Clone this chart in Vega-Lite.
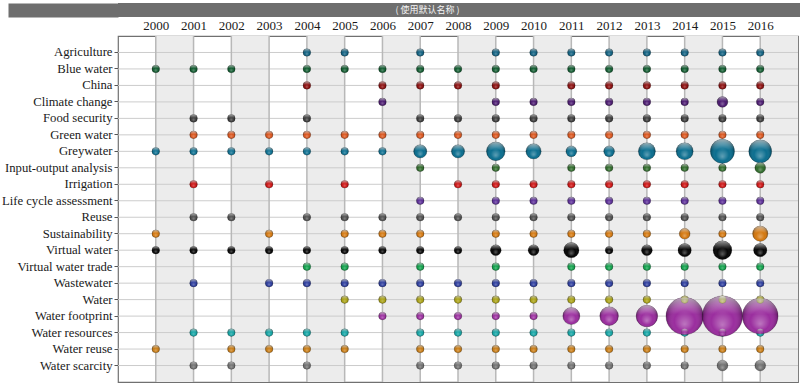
{
  "$schema": "https://vega.github.io/schema/vega-lite/v6.json",
  "padding": {"top": 3, "left": 0, "right": 0, "bottom": 0},
  "background": "#ffffff",
  "spacing": 1,
  "datasets": {
    "keywords": [
      {"k": "Agriculture"}, {"k": "Blue water"}, {"k": "China"}, {"k": "Climate change"}, {"k": "Food security"},
      {"k": "Green water"}, {"k": "Greywater"}, {"k": "Input-output analysis"}, {"k": "Irrigation"}, {"k": "Life cycle assessment"},
      {"k": "Reuse"}, {"k": "Sustainability"}, {"k": "Virtual water"}, {"k": "Virtual water trade"}, {"k": "Wastewater"},
      {"k": "Water"}, {"k": "Water footprint"}, {"k": "Water resources"}, {"k": "Water reuse"}, {"k": "Water scarcity"}
    ],
    "years": [
      {"year": 2000}, {"year": 2001}, {"year": 2002}, {"year": 2003}, {"year": 2004}, {"year": 2005}, {"year": 2006},
      {"year": 2007}, {"year": 2008}, {"year": 2009}, {"year": 2010}, {"year": 2011}, {"year": 2012}, {"year": 2013},
      {"year": 2014}, {"year": 2015}, {"year": 2016}
    ],
    "bands": [
      {"year": 2000, "end": 2001}, {"year": 2002, "end": 2003}, {"year": 2004, "end": 2005}, {"year": 2006, "end": 2007},
      {"year": 2008, "end": 2009}, {"year": 2010, "end": 2011}, {"year": 2012, "end": 2013}, {"year": 2014, "end": 2015},
      {"year": 2016, "end": 2017}
    ],
    "bubbles": [
      {"k": "Water scarcity", "year": 2001, "n": 1}, {"k": "Water scarcity", "year": 2002, "n": 1}, {"k": "Water scarcity", "year": 2004, "n": 1},
      {"k": "Water scarcity", "year": 2007, "n": 1}, {"k": "Water scarcity", "year": 2008, "n": 1}, {"k": "Water scarcity", "year": 2009, "n": 1},
      {"k": "Water scarcity", "year": 2010, "n": 1}, {"k": "Water scarcity", "year": 2011, "n": 1}, {"k": "Water scarcity", "year": 2012, "n": 1},
      {"k": "Water scarcity", "year": 2013, "n": 1}, {"k": "Water scarcity", "year": 2014, "n": 1}, {"k": "Water scarcity", "year": 2015, "n": 2},
      {"k": "Water scarcity", "year": 2016, "n": 2},

      {"k": "Water reuse", "year": 2000, "n": 1}, {"k": "Water reuse", "year": 2002, "n": 1}, {"k": "Water reuse", "year": 2003, "n": 1},
      {"k": "Water reuse", "year": 2004, "n": 1}, {"k": "Water reuse", "year": 2005, "n": 1}, {"k": "Water reuse", "year": 2007, "n": 1},
      {"k": "Water reuse", "year": 2008, "n": 1}, {"k": "Water reuse", "year": 2009, "n": 1}, {"k": "Water reuse", "year": 2010, "n": 1},
      {"k": "Water reuse", "year": 2011, "n": 1}, {"k": "Water reuse", "year": 2012, "n": 1}, {"k": "Water reuse", "year": 2013, "n": 1},
      {"k": "Water reuse", "year": 2014, "n": 1}, {"k": "Water reuse", "year": 2015, "n": 1}, {"k": "Water reuse", "year": 2016, "n": 1},

      {"k": "Water resources", "year": 2001, "n": 1}, {"k": "Water resources", "year": 2002, "n": 1}, {"k": "Water resources", "year": 2003, "n": 1},
      {"k": "Water resources", "year": 2004, "n": 1}, {"k": "Water resources", "year": 2005, "n": 1}, {"k": "Water resources", "year": 2007, "n": 1},
      {"k": "Water resources", "year": 2008, "n": 1}, {"k": "Water resources", "year": 2009, "n": 1}, {"k": "Water resources", "year": 2010, "n": 1},
      {"k": "Water resources", "year": 2011, "n": 1}, {"k": "Water resources", "year": 2012, "n": 1}, {"k": "Water resources", "year": 2013, "n": 1},
      {"k": "Water resources", "year": 2014, "n": 1}, {"k": "Water resources", "year": 2015, "n": 1}, {"k": "Water resources", "year": 2016, "n": 1},

      {"k": "Water footprint", "year": 2006, "n": 1}, {"k": "Water footprint", "year": 2007, "n": 1}, {"k": "Water footprint", "year": 2008, "n": 1},
      {"k": "Water footprint", "year": 2009, "n": 1}, {"k": "Water footprint", "year": 2010, "n": 1}, {"k": "Water footprint", "year": 2011, "n": 5},
      {"k": "Water footprint", "year": 2012, "n": 6}, {"k": "Water footprint", "year": 2013, "n": 8}, {"k": "Water footprint", "year": 2014, "n": 24},
      {"k": "Water footprint", "year": 2015, "n": 28}, {"k": "Water footprint", "year": 2016, "n": 22},

      {"k": "Water", "year": 2005, "n": 1}, {"k": "Water", "year": 2006, "n": 1}, {"k": "Water", "year": 2007, "n": 1},
      {"k": "Water", "year": 2008, "n": 1}, {"k": "Water", "year": 2009, "n": 1}, {"k": "Water", "year": 2010, "n": 1},
      {"k": "Water", "year": 2011, "n": 1}, {"k": "Water", "year": 2012, "n": 1}, {"k": "Water", "year": 2013, "n": 1},
      {"k": "Water", "year": 2014, "n": 1}, {"k": "Water", "year": 2015, "n": 1}, {"k": "Water", "year": 2016, "n": 1},

      {"k": "Wastewater", "year": 2001, "n": 1}, {"k": "Wastewater", "year": 2003, "n": 1}, {"k": "Wastewater", "year": 2004, "n": 1},
      {"k": "Wastewater", "year": 2005, "n": 1}, {"k": "Wastewater", "year": 2006, "n": 1}, {"k": "Wastewater", "year": 2007, "n": 1},
      {"k": "Wastewater", "year": 2008, "n": 1}, {"k": "Wastewater", "year": 2009, "n": 1}, {"k": "Wastewater", "year": 2010, "n": 1},
      {"k": "Wastewater", "year": 2011, "n": 1}, {"k": "Wastewater", "year": 2012, "n": 1}, {"k": "Wastewater", "year": 2013, "n": 1},
      {"k": "Wastewater", "year": 2014, "n": 1}, {"k": "Wastewater", "year": 2015, "n": 1}, {"k": "Wastewater", "year": 2016, "n": 1},

      {"k": "Virtual water trade", "year": 2004, "n": 1}, {"k": "Virtual water trade", "year": 2005, "n": 1}, {"k": "Virtual water trade", "year": 2007, "n": 1},
      {"k": "Virtual water trade", "year": 2009, "n": 1}, {"k": "Virtual water trade", "year": 2011, "n": 1}, {"k": "Virtual water trade", "year": 2012, "n": 1},
      {"k": "Virtual water trade", "year": 2013, "n": 1}, {"k": "Virtual water trade", "year": 2014, "n": 1}, {"k": "Virtual water trade", "year": 2015, "n": 1},
      {"k": "Virtual water trade", "year": 2016, "n": 1},

      {"k": "Virtual water", "year": 2000, "n": 1}, {"k": "Virtual water", "year": 2001, "n": 1}, {"k": "Virtual water", "year": 2002, "n": 1},
      {"k": "Virtual water", "year": 2003, "n": 1}, {"k": "Virtual water", "year": 2004, "n": 1}, {"k": "Virtual water", "year": 2005, "n": 1},
      {"k": "Virtual water", "year": 2006, "n": 1}, {"k": "Virtual water", "year": 2007, "n": 1}, {"k": "Virtual water", "year": 2008, "n": 1},
      {"k": "Virtual water", "year": 2009, "n": 2}, {"k": "Virtual water", "year": 2010, "n": 2}, {"k": "Virtual water", "year": 2011, "n": 4},
      {"k": "Virtual water", "year": 2012, "n": 1}, {"k": "Virtual water", "year": 2013, "n": 2}, {"k": "Virtual water", "year": 2014, "n": 3},
      {"k": "Virtual water", "year": 2015, "n": 6}, {"k": "Virtual water", "year": 2016, "n": 3},

      {"k": "Sustainability", "year": 2000, "n": 1}, {"k": "Sustainability", "year": 2003, "n": 1}, {"k": "Sustainability", "year": 2005, "n": 1},
      {"k": "Sustainability", "year": 2006, "n": 1}, {"k": "Sustainability", "year": 2007, "n": 1}, {"k": "Sustainability", "year": 2009, "n": 1},
      {"k": "Sustainability", "year": 2010, "n": 1}, {"k": "Sustainability", "year": 2011, "n": 1}, {"k": "Sustainability", "year": 2012, "n": 1},
      {"k": "Sustainability", "year": 2013, "n": 1}, {"k": "Sustainability", "year": 2014, "n": 2}, {"k": "Sustainability", "year": 2015, "n": 1},
      {"k": "Sustainability", "year": 2016, "n": 4},

      {"k": "Reuse", "year": 2001, "n": 1}, {"k": "Reuse", "year": 2002, "n": 1}, {"k": "Reuse", "year": 2004, "n": 1},
      {"k": "Reuse", "year": 2005, "n": 1}, {"k": "Reuse", "year": 2006, "n": 1}, {"k": "Reuse", "year": 2007, "n": 1},
      {"k": "Reuse", "year": 2008, "n": 1}, {"k": "Reuse", "year": 2009, "n": 1}, {"k": "Reuse", "year": 2010, "n": 1},
      {"k": "Reuse", "year": 2011, "n": 1}, {"k": "Reuse", "year": 2012, "n": 1}, {"k": "Reuse", "year": 2013, "n": 1},
      {"k": "Reuse", "year": 2014, "n": 1}, {"k": "Reuse", "year": 2015, "n": 1}, {"k": "Reuse", "year": 2016, "n": 1},

      {"k": "Life cycle assessment", "year": 2007, "n": 1}, {"k": "Life cycle assessment", "year": 2009, "n": 1}, {"k": "Life cycle assessment", "year": 2010, "n": 1},
      {"k": "Life cycle assessment", "year": 2011, "n": 1}, {"k": "Life cycle assessment", "year": 2012, "n": 1}, {"k": "Life cycle assessment", "year": 2013, "n": 1},
      {"k": "Life cycle assessment", "year": 2014, "n": 1}, {"k": "Life cycle assessment", "year": 2015, "n": 1}, {"k": "Life cycle assessment", "year": 2016, "n": 1},

      {"k": "Irrigation", "year": 2001, "n": 1}, {"k": "Irrigation", "year": 2003, "n": 1}, {"k": "Irrigation", "year": 2005, "n": 1},
      {"k": "Irrigation", "year": 2008, "n": 1}, {"k": "Irrigation", "year": 2009, "n": 1}, {"k": "Irrigation", "year": 2010, "n": 1},
      {"k": "Irrigation", "year": 2011, "n": 1}, {"k": "Irrigation", "year": 2012, "n": 1}, {"k": "Irrigation", "year": 2013, "n": 1},
      {"k": "Irrigation", "year": 2014, "n": 1}, {"k": "Irrigation", "year": 2015, "n": 1}, {"k": "Irrigation", "year": 2016, "n": 1},

      {"k": "Input-output analysis", "year": 2007, "n": 1}, {"k": "Input-output analysis", "year": 2009, "n": 1}, {"k": "Input-output analysis", "year": 2011, "n": 1},
      {"k": "Input-output analysis", "year": 2012, "n": 1}, {"k": "Input-output analysis", "year": 2013, "n": 1}, {"k": "Input-output analysis", "year": 2014, "n": 1},
      {"k": "Input-output analysis", "year": 2015, "n": 1}, {"k": "Input-output analysis", "year": 2016, "n": 2},

      {"k": "Greywater", "year": 2000, "n": 1}, {"k": "Greywater", "year": 2001, "n": 1}, {"k": "Greywater", "year": 2002, "n": 1},
      {"k": "Greywater", "year": 2003, "n": 1}, {"k": "Greywater", "year": 2004, "n": 1}, {"k": "Greywater", "year": 2005, "n": 1},
      {"k": "Greywater", "year": 2006, "n": 1}, {"k": "Greywater", "year": 2007, "n": 3}, {"k": "Greywater", "year": 2008, "n": 3},
      {"k": "Greywater", "year": 2009, "n": 6}, {"k": "Greywater", "year": 2010, "n": 4}, {"k": "Greywater", "year": 2011, "n": 2},
      {"k": "Greywater", "year": 2012, "n": 2}, {"k": "Greywater", "year": 2013, "n": 5}, {"k": "Greywater", "year": 2014, "n": 5},
      {"k": "Greywater", "year": 2015, "n": 10}, {"k": "Greywater", "year": 2016, "n": 9},

      {"k": "Green water", "year": 2001, "n": 1}, {"k": "Green water", "year": 2002, "n": 1}, {"k": "Green water", "year": 2003, "n": 1},
      {"k": "Green water", "year": 2004, "n": 1}, {"k": "Green water", "year": 2005, "n": 1}, {"k": "Green water", "year": 2006, "n": 1},
      {"k": "Green water", "year": 2007, "n": 1}, {"k": "Green water", "year": 2008, "n": 1}, {"k": "Green water", "year": 2009, "n": 1},
      {"k": "Green water", "year": 2010, "n": 1}, {"k": "Green water", "year": 2011, "n": 1}, {"k": "Green water", "year": 2012, "n": 1},
      {"k": "Green water", "year": 2013, "n": 1}, {"k": "Green water", "year": 2014, "n": 1}, {"k": "Green water", "year": 2015, "n": 1},
      {"k": "Green water", "year": 2016, "n": 1},

      {"k": "Food security", "year": 2001, "n": 1}, {"k": "Food security", "year": 2002, "n": 1}, {"k": "Food security", "year": 2004, "n": 1},
      {"k": "Food security", "year": 2007, "n": 1}, {"k": "Food security", "year": 2008, "n": 1}, {"k": "Food security", "year": 2009, "n": 1},
      {"k": "Food security", "year": 2010, "n": 1}, {"k": "Food security", "year": 2011, "n": 1}, {"k": "Food security", "year": 2012, "n": 1},
      {"k": "Food security", "year": 2013, "n": 1}, {"k": "Food security", "year": 2014, "n": 1}, {"k": "Food security", "year": 2015, "n": 1},
      {"k": "Food security", "year": 2016, "n": 1},

      {"k": "Climate change", "year": 2006, "n": 1}, {"k": "Climate change", "year": 2009, "n": 1}, {"k": "Climate change", "year": 2010, "n": 1},
      {"k": "Climate change", "year": 2011, "n": 1}, {"k": "Climate change", "year": 2012, "n": 1}, {"k": "Climate change", "year": 2013, "n": 1},
      {"k": "Climate change", "year": 2014, "n": 1}, {"k": "Climate change", "year": 2015, "n": 2}, {"k": "Climate change", "year": 2016, "n": 1},

      {"k": "China", "year": 2004, "n": 1}, {"k": "China", "year": 2006, "n": 1}, {"k": "China", "year": 2007, "n": 1},
      {"k": "China", "year": 2008, "n": 1}, {"k": "China", "year": 2009, "n": 1}, {"k": "China", "year": 2011, "n": 1},
      {"k": "China", "year": 2012, "n": 1}, {"k": "China", "year": 2013, "n": 1}, {"k": "China", "year": 2014, "n": 1},
      {"k": "China", "year": 2015, "n": 1}, {"k": "China", "year": 2016, "n": 1},

      {"k": "Blue water", "year": 2000, "n": 1}, {"k": "Blue water", "year": 2001, "n": 1}, {"k": "Blue water", "year": 2002, "n": 1},
      {"k": "Blue water", "year": 2004, "n": 1}, {"k": "Blue water", "year": 2005, "n": 1}, {"k": "Blue water", "year": 2006, "n": 1},
      {"k": "Blue water", "year": 2007, "n": 1}, {"k": "Blue water", "year": 2008, "n": 1}, {"k": "Blue water", "year": 2009, "n": 1},
      {"k": "Blue water", "year": 2010, "n": 1}, {"k": "Blue water", "year": 2011, "n": 1}, {"k": "Blue water", "year": 2012, "n": 1},
      {"k": "Blue water", "year": 2013, "n": 1}, {"k": "Blue water", "year": 2014, "n": 1}, {"k": "Blue water", "year": 2015, "n": 1},
      {"k": "Blue water", "year": 2016, "n": 1},

      {"k": "Agriculture", "year": 2004, "n": 1}, {"k": "Agriculture", "year": 2005, "n": 1}, {"k": "Agriculture", "year": 2007, "n": 1},
      {"k": "Agriculture", "year": 2009, "n": 1}, {"k": "Agriculture", "year": 2010, "n": 1}, {"k": "Agriculture", "year": 2011, "n": 1},
      {"k": "Agriculture", "year": 2012, "n": 1}, {"k": "Agriculture", "year": 2013, "n": 1}, {"k": "Agriculture", "year": 2014, "n": 1},
      {"k": "Agriculture", "year": 2015, "n": 1}, {"k": "Agriculture", "year": 2016, "n": 1}
    ]
  },
  "vconcat": [
    {
      "width": 683,
      "height": 14,
      "view": {"stroke": null},
      "data": {"values": [{"label": "( 使用默认名称 )"}]},
      "encoding": {
        "y": {"field": "label", "type": "nominal", "title": null,
              "axis": {"orient": "left", "labels": false, "ticks": true, "tickSize": 110, "tickWidth": 14, "tickColor": "#6e6e6e", "tickCap": "butt", "domain": false, "grid": false}}
      },
      "layer": [
        {"mark": {"type": "rect", "color": "#6e6e6e"}, "encoding": {}},
        {"mark": {"type": "text", "color": "#f4f4f4", "font": "Noto Sans CJK SC", "fontSize": 9, "dx": -32, "baseline": "middle"}, "encoding": {"text": {"field": "label"}}}
      ]
    },
    {
      "width": 680,
      "height": 346,
      "view": {"stroke": "#707070", "strokeWidth": 1.2},
      "layer": [
        {
          "data": {"name": "bands"},
          "mark": {"type": "rect", "color": "#ececec"},
          "encoding": {
            "x": {"field": "year", "type": "quantitative", "title": null,
                  "scale": {"domain": [1999, 2017], "nice": false, "zero": false},
                  "axis": {"orient": "top", "values": [2000, 2001, 2002, 2003, 2004, 2005, 2006, 2007, 2008, 2009, 2010, 2011, 2012, 2013, 2014, 2015, 2016],
                           "format": "d", "grid": false, "ticks": false, "tickSize": 0, "domain": false, "labelPadding": 4,
                           "labelFont": "Liberation Serif", "labelFontSize": 13, "labelColor": "#1a1a1a"}},
            "x2": {"field": "end"}
          }
        },
        {
          "data": {"name": "keywords"},
          "mark": {"type": "rule", "color": "#cccccc", "strokeWidth": 1},
          "encoding": {
            "x": {"datum": 1999, "type": "quantitative", "title": null,
                  "scale": {"domain": [1999, 2017], "nice": false, "zero": false},
                  "axis": {"orient": "top", "values": [2000, 2001, 2002, 2003, 2004, 2005, 2006, 2007, 2008, 2009, 2010, 2011, 2012, 2013, 2014, 2015, 2016],
                           "format": "d", "grid": false, "ticks": false, "tickSize": 0, "domain": false, "labelPadding": 4,
                           "labelFont": "Liberation Serif", "labelFontSize": 13, "labelColor": "#1a1a1a"}},
            "x2": {"datum": 2017},
            "y": {"field": "k", "type": "nominal", "title": null,
                  "scale": {"domain": ["Agriculture", "Blue water", "China", "Climate change", "Food security", "Green water", "Greywater", "Input-output analysis", "Irrigation", "Life cycle assessment", "Reuse", "Sustainability", "Virtual water", "Virtual water trade", "Wastewater", "Water", "Water footprint", "Water resources", "Water reuse", "Water scarcity"], "padding": 1},
                  "axis": {"orient": "left", "grid": false, "domain": false, "ticks": true, "tickSize": 4, "tickColor": "#555555", "labelPadding": 2,
                           "labelFont": "Liberation Serif", "labelFontSize": 12.7, "labelColor": "#1a1a1a", "labelLimit": 300}}
          }
        },
        {
          "data": {"name": "years"},
          "mark": {"type": "rule", "color": "#b8b8b8", "strokeWidth": 1.5},
          "encoding": {
            "x": {"field": "year", "type": "quantitative", "title": null,
                  "scale": {"domain": [1999, 2017], "nice": false, "zero": false},
                  "axis": {"orient": "top", "values": [2000, 2001, 2002, 2003, 2004, 2005, 2006, 2007, 2008, 2009, 2010, 2011, 2012, 2013, 2014, 2015, 2016],
                           "format": "d", "grid": false, "ticks": false, "tickSize": 0, "domain": false, "labelPadding": 4,
                           "labelFont": "Liberation Serif", "labelFontSize": 13, "labelColor": "#1a1a1a"}}
          }
        },
        {
          "data": {"name": "bubbles"},
          "mark": {"type": "circle", "opacity": 1, "stroke": "#000000", "strokeOpacity": 0.35, "strokeWidth": 0.6},
          "encoding": {
            "x": {"field": "year", "type": "quantitative", "title": null,
                  "scale": {"domain": [1999, 2017], "nice": false, "zero": false},
                  "axis": {"orient": "top", "values": [2000, 2001, 2002, 2003, 2004, 2005, 2006, 2007, 2008, 2009, 2010, 2011, 2012, 2013, 2014, 2015, 2016],
                           "format": "d", "grid": false, "ticks": false, "tickSize": 0, "domain": false, "labelPadding": 4,
                           "labelFont": "Liberation Serif", "labelFontSize": 13, "labelColor": "#1a1a1a"}},
            "y": {"field": "k", "type": "nominal", "title": null,
                  "scale": {"domain": ["Agriculture", "Blue water", "China", "Climate change", "Food security", "Green water", "Greywater", "Input-output analysis", "Irrigation", "Life cycle assessment", "Reuse", "Sustainability", "Virtual water", "Virtual water trade", "Wastewater", "Water", "Water footprint", "Water resources", "Water reuse", "Water scarcity"], "padding": 1},
                  "axis": {"orient": "left", "grid": false, "domain": false, "ticks": true, "tickSize": 4, "tickColor": "#555555", "labelPadding": 2,
                           "labelFont": "Liberation Serif", "labelFontSize": 12.7, "labelColor": "#1a1a1a", "labelLimit": 300}},
            "size": {"field": "n", "type": "quantitative", "legend": null, "scale": {"type": "linear", "domain": [0, 28], "range": [0, 1624], "zero": true}},
            "color": {"field": "k", "type": "nominal", "legend": null,
                      "scale": {"domain": ["Agriculture", "Blue water", "China", "Climate change", "Food security", "Green water", "Greywater", "Input-output analysis", "Irrigation", "Life cycle assessment", "Reuse", "Sustainability", "Virtual water", "Virtual water trade", "Wastewater", "Water", "Water footprint", "Water resources", "Water reuse", "Water scarcity"],
                                "range": ["#0f5f7f", "#0f5a2e", "#8a0c0c", "#4b1a70", "#3a3a3a", "#d9541c", "#0b6e8f", "#2f6a2a", "#cc1212", "#5a2d96", "#4d4d4d", "#d4780f", "#050505", "#0fa04a", "#2b3b9c", "#a8a012", "#9a2d9e", "#12a3a3", "#c77a12", "#6e6e6e"]}}
          }
        },
        {
          "data": {"name": "bubbles"},
          "mark": {"type": "circle", "opacity": 1,
                   "fill": {"gradient": "radial", "x1": 0.5, "y1": 0.72, "r1": 0, "x2": 0.5, "y2": 0.55, "r2": 0.56,
                            "stops": [{"offset": 0, "color": "rgba(255,255,255,0.35)"}, {"offset": 0.5, "color": "rgba(255,255,255,0)"}, {"offset": 0.8, "color": "rgba(0,0,0,0.15)"}, {"offset": 1, "color": "rgba(0,0,0,0.55)"}]}},
          "encoding": {
            "x": {"field": "year", "type": "quantitative", "title": null,
                  "scale": {"domain": [1999, 2017], "nice": false, "zero": false},
                  "axis": {"orient": "top", "values": [2000, 2001, 2002, 2003, 2004, 2005, 2006, 2007, 2008, 2009, 2010, 2011, 2012, 2013, 2014, 2015, 2016],
                           "format": "d", "grid": false, "ticks": false, "tickSize": 0, "domain": false, "labelPadding": 4,
                           "labelFont": "Liberation Serif", "labelFontSize": 13, "labelColor": "#1a1a1a"}},
            "y": {"field": "k", "type": "nominal", "title": null,
                  "scale": {"domain": ["Agriculture", "Blue water", "China", "Climate change", "Food security", "Green water", "Greywater", "Input-output analysis", "Irrigation", "Life cycle assessment", "Reuse", "Sustainability", "Virtual water", "Virtual water trade", "Wastewater", "Water", "Water footprint", "Water resources", "Water reuse", "Water scarcity"], "padding": 1},
                  "axis": {"orient": "left", "grid": false, "domain": false, "ticks": true, "tickSize": 4, "tickColor": "#555555", "labelPadding": 2,
                           "labelFont": "Liberation Serif", "labelFontSize": 12.7, "labelColor": "#1a1a1a", "labelLimit": 300}},
            "size": {"field": "n", "type": "quantitative", "legend": null}
          }
        },
        {
          "data": {"name": "bubbles"},
          "mark": {"type": "circle", "opacity": 1,
                   "fill": {"gradient": "linear", "x1": 0, "y1": 0, "x2": 0, "y2": 1,
                            "stops": [{"offset": 0, "color": "rgba(255,255,255,0.6)"}, {"offset": 0.3, "color": "rgba(255,255,255,0.18)"}, {"offset": 0.45, "color": "rgba(255,255,255,0)"}, {"offset": 1, "color": "rgba(255,255,255,0)"}]}},
          "encoding": {
            "x": {"field": "year", "type": "quantitative", "title": null,
                  "scale": {"domain": [1999, 2017], "nice": false, "zero": false},
                  "axis": {"orient": "top", "values": [2000, 2001, 2002, 2003, 2004, 2005, 2006, 2007, 2008, 2009, 2010, 2011, 2012, 2013, 2014, 2015, 2016],
                           "format": "d", "grid": false, "ticks": false, "tickSize": 0, "domain": false, "labelPadding": 4,
                           "labelFont": "Liberation Serif", "labelFontSize": 13, "labelColor": "#1a1a1a"}},
            "y": {"field": "k", "type": "nominal", "title": null,
                  "scale": {"domain": ["Agriculture", "Blue water", "China", "Climate change", "Food security", "Green water", "Greywater", "Input-output analysis", "Irrigation", "Life cycle assessment", "Reuse", "Sustainability", "Virtual water", "Virtual water trade", "Wastewater", "Water", "Water footprint", "Water resources", "Water reuse", "Water scarcity"], "padding": 1},
                  "axis": {"orient": "left", "grid": false, "domain": false, "ticks": true, "tickSize": 4, "tickColor": "#555555", "labelPadding": 2,
                           "labelFont": "Liberation Serif", "labelFontSize": 12.7, "labelColor": "#1a1a1a", "labelLimit": 300}},
            "size": {"field": "n", "type": "quantitative", "legend": null}
          }
        }
      ]
    }
  ]
}
